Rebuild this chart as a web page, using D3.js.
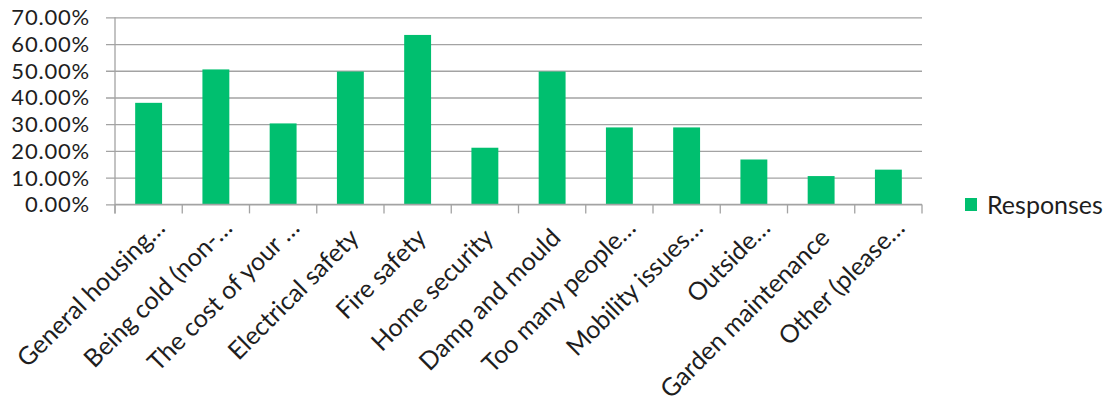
<!DOCTYPE html>
<html>
<head>
<meta charset="utf-8">
<script src="https://cdn.jsdelivr.net/npm/d3@7/dist/d3.min.js"></script>
<style>
  html, body { margin: 0; padding: 0; background: #fff; }
  svg { display: block; }
  text { font-family: Lato, "Open Sans", sans-serif; fill: #1e1e1e; }
</style>
</head>
<body>
<svg id="chart" width="1106" height="406"></svg>
<script>
// Housing concerns survey: share of respondents choosing each issue
const categories = [
  "General housing…",
  "Being cold (non-…",
  "The cost of your …",
  "Electrical safety",
  "Fire safety",
  "Home security",
  "Damp and mould",
  "Too many people…",
  "Mobility issues…",
  "Outside…",
  "Garden maintenance",
  "Other (please…"
];
const responses = [0.380, 0.505, 0.303, 0.497, 0.634, 0.212, 0.497, 0.288, 0.288, 0.168, 0.106, 0.130];
const yTicks = [0, 0.1, 0.2, 0.3, 0.4, 0.5, 0.6, 0.7];
const seriesName = "Responses";

const barColor = "#00BF6F";
const gridColor = "#a3a3a3";
const labelSize = 25;
const tickSize = 22;

const svg = d3.select("#chart");
const plot = { left: 115, right: 922, top: 17.3, bottom: 204.4 };

const x = d3.scaleBand()
  .domain(categories)
  .range([plot.left, plot.right])
  .paddingInner(0.6)
  .paddingOuter(0.3);

const y = d3.scaleLinear()
  .domain([0, 0.7])
  .range([plot.bottom, plot.top]);

const pct = d3.format(".2%");

// horizontal gridlines with short outward ticks on the left
svg.append("g")
  .attr("transform", `translate(${plot.left},0)`)
  .call(d3.axisLeft(y)
    .tickValues(yTicks)
    .tickSize(-(plot.right - plot.left))
    .tickFormat(""))
  .call(g => g.select(".domain").remove())
  .call(g => g.selectAll(".tick line")
    .attr("x1", -9)
    .attr("stroke", gridColor)
    .attr("stroke-width", 1.3));

// y labels
svg.append("g")
  .selectAll("text")
  .data(yTicks)
  .join("text")
  .attr("x", 90)
  .attr("y", d => y(d))
  .attr("dy", "0.36em")
  .attr("text-anchor", "end")
  .style("font-size", tickSize + "px")
  .style("letter-spacing", "0.8px")
  .text(d => pct(d));

// bars
svg.append("g")
  .selectAll("rect")
  .data(categories)
  .join("rect")
  .attr("x", d => x(d))
  .attr("width", x.bandwidth())
  .attr("y", (d, i) => y(responses[i]))
  .attr("height", (d, i) => y(0) - y(responses[i]))
  .attr("fill", barColor);

// vertical axis line
svg.append("line")
  .attr("x1", plot.left).attr("x2", plot.left)
  .attr("y1", y(0.7)).attr("y2", y(0) + 9)
  .attr("stroke", gridColor).attr("stroke-width", 1.3);

// category axis: baseline plus ticks between categories
const step = x.step();
const boundaries = d3.range(categories.length + 1).map(i => plot.left + i * step);
svg.append("line")
  .attr("x1", plot.left).attr("x2", plot.right)
  .attr("y1", y(0)).attr("y2", y(0))
  .attr("stroke", gridColor).attr("stroke-width", 1.3);
svg.append("g")
  .selectAll("line")
  .data(boundaries)
  .join("line")
  .attr("x1", d => d).attr("x2", d => d)
  .attr("y1", y(0)).attr("y2", y(0) + 9)
  .attr("stroke", gridColor).attr("stroke-width", 1.3);

// rotated category labels
svg.append("g")
  .selectAll("text")
  .data(categories)
  .join("text")
  .attr("transform", d => {
    const cx = x(d) + x.bandwidth() / 2;
    const cut = d.endsWith("…");
    const ox = cut ? 18 : 10;
    const oy = cut ? 25 : 35;
    return `translate(${cx + ox},${y(0) + oy}) rotate(-45)`;
  })
  .attr("text-anchor", "end")
  .style("font-size", labelSize + "px")
  .text(d => d);

// legend
const legend = svg.append("g").attr("transform", "translate(965,198)");
legend.append("rect")
  .attr("width", 12).attr("height", 13)
  .attr("fill", barColor);
legend.append("text")
  .attr("x", 22).attr("y", 6.5)
  .attr("dy", "0.36em")
  .style("font-size", labelSize + "px")
  .text(seriesName);
</script>
</body>
</html>
